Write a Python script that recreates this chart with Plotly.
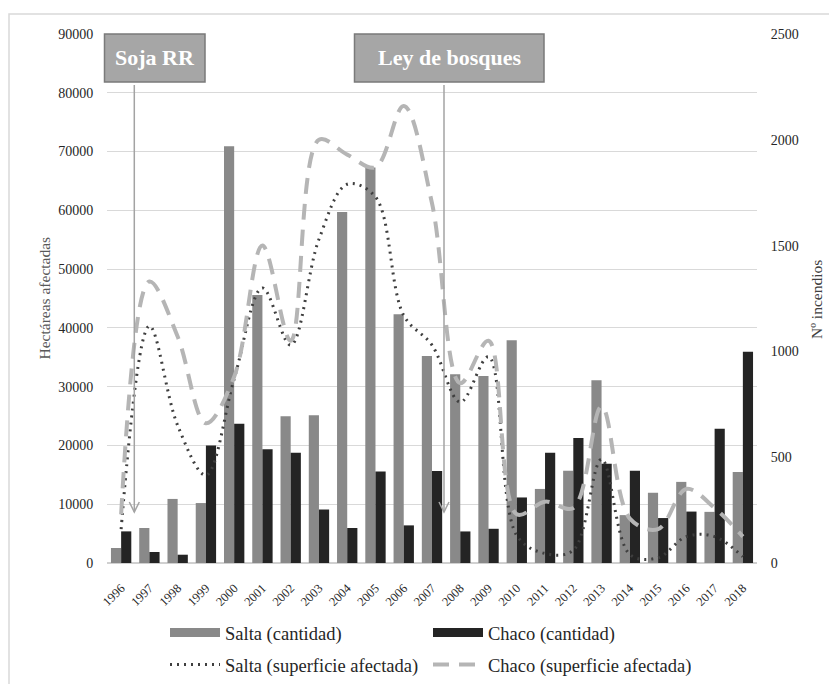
import plotly.graph_objects as go

# ---------------- datos ----------------
anios = ["1996", "1997", "1998", "1999", "2000", "2001", "2002", "2003", "2004", "2005", "2006", "2007",
         "2008", "2009", "2010", "2011", "2012", "2013", "2014", "2015", "2016", "2017", "2018"]

salta_cantidad = [2550, 5960, 10900, 10200, 70900, 45600, 24950, 25150, 59700, 67300, 42300, 35200,
                  32100, 31800, 37900, 12600, 15700, 31100, 8150, 11950, 13800, 8700, 15500]
chaco_cantidad = [5380, 1870, 1410, 19970, 23700, 19350, 18750, 9100, 5960, 15550, 6400, 15670,
                  5370, 5820, 11150, 18750, 21250, 16900, 15700, 7650, 8750, 22850, 35950]

salta_superficie = [160, 1120, 650, 415, 870, 1300, 1030, 1530, 1790, 1730, 1170, 1030,
                    760, 975, 130, 45, 60, 490, 40, 25, 125, 125, 30]
chaco_superficie = [230, 1330, 1070, 660, 880, 1500, 1050, 2000, 1930, 1870, 2160, 1700,
                    850, 1050, 230, 290, 260, 740, 210, 160, 350, 260, 125]

hitos = ["Soja RR", "Ley de bosques"]

GRIS = "#898989"
NEGRO = "#242424"

# ---------------- figura ----------------
fig = go.Figure()

fig.add_trace(go.Bar(x=anios, y=salta_cantidad, name="Salta (cantidad)", showlegend=False,
                     marker=dict(color=GRIS, line=dict(width=0))))
fig.add_trace(go.Bar(x=anios, y=chaco_cantidad, name="Chaco (cantidad)", showlegend=False,
                     marker=dict(color=NEGRO, line=dict(width=0))))

# entradas de leyenda para las barras (rectangulo ancho como en el original)
fig.add_trace(go.Scatter(x=[None], y=[None], name="Salta (cantidad)", mode="lines",
                         line=dict(color=GRIS, width=9), legend="legend", hoverinfo="skip"))
fig.add_trace(go.Scatter(x=[None], y=[None], name="Chaco (cantidad)", mode="lines",
                         line=dict(color=NEGRO, width=9), legend="legend", hoverinfo="skip"))

fig.add_trace(go.Scatter(x=anios, y=salta_superficie, name="Salta (superficie afectada)", yaxis="y2",
                         mode="lines", line=dict(color="#3f3f3f", width=3, dash="2px,5px",
                                                 shape="spline", smoothing=1),
                         legend="legend2"))
fig.add_trace(go.Scatter(x=anios, y=chaco_superficie, name="Chaco (superficie afectada)", yaxis="y2",
                         mode="lines", line=dict(color="#b5b5b5", width=4, dash="16px,10px",
                                                 shape="spline", smoothing=1),
                         legend="legend2"))

# pixel (captura) -> paper ; area del grafico: x 107..757, y 34..563
def px(x):
    return (x - 107) / 650.0

def py(y):
    return (563 - y) / 529.0

shapes = []
# marco exterior
shapes.append(dict(type="rect", xref="paper", yref="paper", x0=px(9), x1=px(845), y0=py(700), y1=py(14),
                   line=dict(color="#d9d9d9", width=1.5), fillcolor="rgba(0,0,0,0)", layer="below"))
# cajas de hitos
for x0, x1 in [(104.5, 205), (354.5, 544)]:
    shapes.append(dict(type="rect", xref="paper", yref="paper", x0=px(x0), x1=px(x1), y0=py(82), y1=py(34),
                       line=dict(color="#7a7a7a", width=1.5), fillcolor="#a6a6a6", layer="above"))
# flechas verticales
for xa in [134.3, 444]:
    shapes.append(dict(type="line", xref="paper", yref="paper", x0=px(xa), x1=px(xa), y0=py(85), y1=py(512),
                       line=dict(color="#a3a3a3", width=1.5)))
    shapes.append(dict(type="path", xref="paper", yref="paper",
                       path="M %f,%f L %f,%f L %f,%f" % (px(xa - 5), py(502), px(xa), py(512), px(xa + 5), py(502)),
                       line=dict(color="#a3a3a3", width=1.5)))

annotations = [
    dict(text="<b>%s</b>" % hitos[0], x=px(154.7), y=py(58), xref="paper", yref="paper", showarrow=False,
         xanchor="center", yanchor="middle",
         font=dict(family="Liberation Serif", size=22, color="white")),
    dict(text="<b>%s</b>" % hitos[1], x=px(449.2), y=py(58), xref="paper", yref="paper", showarrow=False,
         xanchor="center", yanchor="middle",
         font=dict(family="Liberation Serif", size=22, color="white")),
    dict(text="Hectáreas afectadas", x=px(44), y=py(298.5), xref="paper", yref="paper", showarrow=False,
         xanchor="center", yanchor="middle",
         textangle=-90, font=dict(family="Liberation Serif", size=15.5, color="#595959")),
    dict(text="Nº incendios", x=px(816), y=py(300), xref="paper", yref="paper", showarrow=False,
         xanchor="center", yanchor="middle",
         textangle=-90, font=dict(family="Liberation Serif", size=15.5, color="#404040")),
]

fig.update_layout(
    width=837, height=684,
    # la pagina tiene 8 px de margen en el body
    margin=dict(l=99, r=88, t=26, b=129, autoexpand=False),
    paper_bgcolor="white", plot_bgcolor="white",
    font=dict(family="Liberation Serif", size=14, color="#262626"),
    barmode="group", bargap=0.28, bargroupgap=0,
    xaxis=dict(type="category", tickangle=-45, tickfont=dict(size=12.5), showgrid=False,
               ticks="outside", ticklen=12, tickcolor="rgba(0,0,0,0)", showline=False),
    yaxis=dict(range=[0, 90000], dtick=10000, tickformat="d", showgrid=True, gridcolor="#d9d9d9",
               gridwidth=1, zeroline=True, zerolinecolor="#d0d0d0", zerolinewidth=1.5,
               ticks="outside", ticklen=10, tickcolor="rgba(0,0,0,0)", tickfont=dict(size=14)),
    yaxis2=dict(range=[0, 2500], dtick=500, tickformat="d", overlaying="y", side="right", showgrid=False,
                zeroline=False, ticks="outside", ticklen=10, tickcolor="rgba(0,0,0,0)",
                tickfont=dict(size=14)),
    legend=dict(orientation="h", x=px(165), xanchor="left", y=py(633), yanchor="middle",
                itemwidth=50, entrywidth=198, bgcolor="rgba(0,0,0,0)",
                font=dict(family="Liberation Serif", size=18.5, color="#262626")),
    legend2=dict(orientation="h", x=px(165), xanchor="left", y=py(665), yanchor="middle",
                 itemwidth=50, entrywidth=198, bgcolor="rgba(0,0,0,0)",
                 font=dict(family="Liberation Serif", size=18.5, color="#262626")),
    shapes=shapes,
    annotations=annotations,
)

fig.write_html("out.html")
